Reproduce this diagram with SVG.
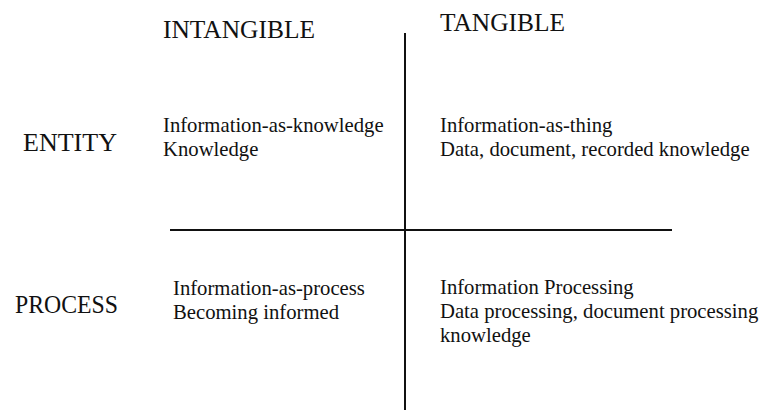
<svg xmlns="http://www.w3.org/2000/svg" width="761" height="410" viewBox="0 0 761 410">
<style>
.t{font-family:"Liberation Serif","Times New Roman",serif;fill:#111;}
.h{font-size:24.5px;}
.b{font-size:20.7px;}
.ln{stroke:#111;stroke-width:2;fill:none;}
</style>
<rect width="761" height="410" fill="#fff"/>
<g id="connectors">
<line class="ln" x1="405" y1="33" x2="405" y2="410"/>
<line class="ln" x1="170" y1="230" x2="672" y2="230"/>
</g>
<g id="header-intangible"><text class="t h" x="163" y="38" textLength="152" lengthAdjust="spacingAndGlyphs">INTANGIBLE</text></g>
<g id="header-tangible"><text class="t h" x="440" y="31" textLength="125" lengthAdjust="spacingAndGlyphs">TANGIBLE</text></g>
<g id="row-entity"><text class="t h" x="23" y="151" textLength="94" lengthAdjust="spacingAndGlyphs">ENTITY</text></g>
<g id="row-process"><text class="t h" x="15" y="313" textLength="103" lengthAdjust="spacingAndGlyphs">PROCESS</text></g>
<g id="cell-entity-intangible">
<text class="t b" x="163" y="132">Information-as-knowledge</text>
<text class="t b" x="163" y="156">Knowledge</text>
</g>
<g id="cell-entity-tangible">
<text class="t b" x="440" y="132">Information-as-thing</text>
<text class="t b" x="440" y="156">Data, document, recorded knowledge</text>
</g>
<g id="cell-process-intangible">
<text class="t b" x="173" y="295">Information-as-process</text>
<text class="t b" x="173" y="319">Becoming informed</text>
</g>
<g id="cell-process-tangible">
<text class="t b" x="440" y="294">Information Processing</text>
<text class="t b" x="440" y="318">Data processing, document processing</text>
<text class="t b" x="440" y="342">knowledge</text>
</g>
</svg>
